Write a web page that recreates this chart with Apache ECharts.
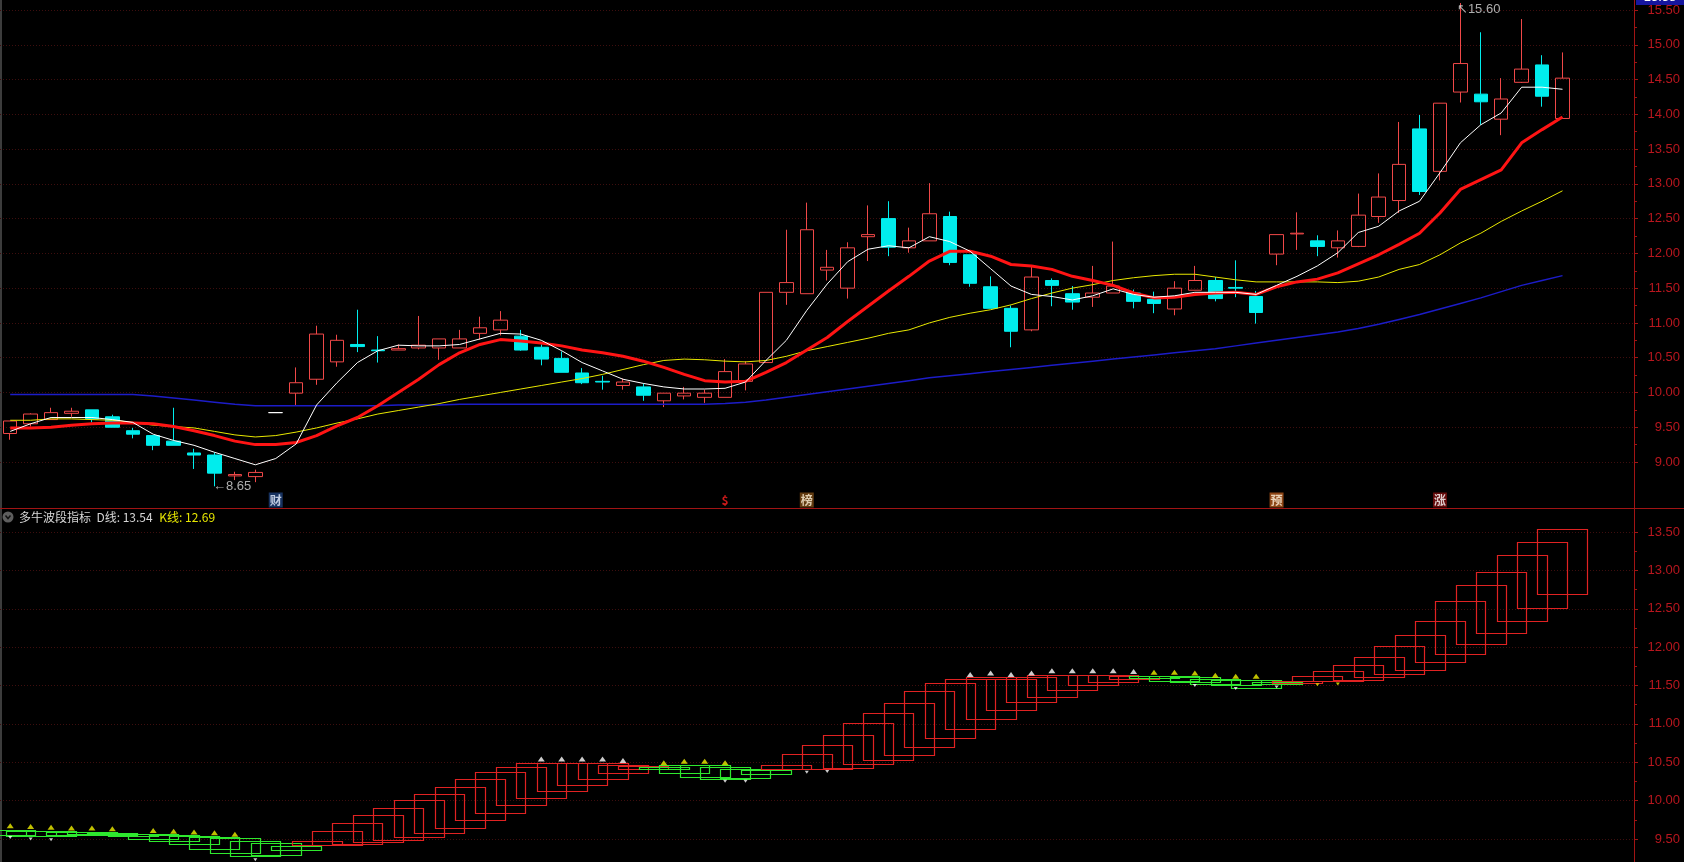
<!DOCTYPE html>
<html>
<head>
<meta charset="utf-8">
<title>多牛波段指标</title>
<script src="https://cdn.jsdelivr.net/npm/echarts@6/dist/echarts.min.js"></script>
<style>
  html, body { margin: 0; padding: 0; background: #000; }
  #chart { width: 1684px; height: 862px; }
</style>
</head>
<body>
<div id="chart"></div>
<script>
// 日K [开, 收, 低, 高]
const kline = [
  [9.41, 9.59, 9.32, 9.59], [9.55, 9.69, 9.51, 9.70], [9.61, 9.71, 9.61, 9.78], [9.70, 9.73, 9.65, 9.78],
  [9.75, 9.62, 9.57, 9.75], [9.65, 9.50, 9.50, 9.68], [9.45, 9.40, 9.34, 9.49], [9.38, 9.24, 9.17, 9.38],
  [9.30, 9.24, 9.24, 9.78], [9.13, 9.10, 8.90, 9.19], [9.10, 8.84, 8.65, 9.14], [8.80, 8.82, 8.74, 8.86],
  [8.79, 8.85, 8.71, 8.89], [9.71, 9.71, 9.71, 9.71], [9.99, 10.14, 9.82, 10.36], [10.19, 10.84, 10.11, 10.96],
  [10.44, 10.75, 10.37, 10.83], [10.69, 10.66, 10.58, 11.19], [10.61, 10.60, 10.43, 10.81], [10.61, 10.63, 10.61, 10.69],
  [10.64, 10.68, 10.62, 11.10], [10.64, 10.77, 10.47, 10.77], [10.64, 10.77, 10.64, 10.90], [10.85, 10.93, 10.76, 11.09],
  [10.90, 11.04, 10.82, 11.17], [10.81, 10.61, 10.60, 10.90], [10.65, 10.48, 10.39, 10.69], [10.49, 10.29, 10.29, 10.59],
  [10.28, 10.14, 10.12, 10.35], [10.16, 10.15, 10.04, 10.24], [10.10, 10.15, 10.04, 10.20], [10.08, 9.96, 9.88, 10.13],
  [9.88, 9.99, 9.79, 9.99], [9.95, 9.99, 9.90, 10.08], [9.93, 9.99, 9.85, 10.04], [9.93, 10.30, 9.93, 10.48],
  [10.16, 10.41, 10.03, 10.45], [10.43, 11.44, 10.43, 11.44], [11.44, 11.58, 11.26, 12.34], [11.42, 12.34, 11.42, 12.73],
  [11.76, 11.80, 11.61, 12.05], [11.50, 12.08, 11.35, 12.16], [12.24, 12.27, 11.89, 12.69], [12.50, 12.09, 11.96, 12.75],
  [12.08, 12.18, 12.01, 12.37], [12.18, 12.57, 12.18, 13.01], [12.53, 11.87, 11.83, 12.60], [11.98, 11.57, 11.52, 11.98],
  [11.52, 11.21, 11.21, 11.67], [11.21, 10.88, 10.65, 11.25], [10.90, 11.66, 10.88, 11.82], [11.61, 11.54, 11.24, 11.64],
  [11.42, 11.30, 11.19, 11.53], [11.37, 11.43, 11.23, 11.82], [11.43, 11.53, 11.43, 12.17], [11.43, 11.31, 11.21, 11.48],
  [11.34, 11.28, 11.14, 11.45], [11.20, 11.50, 11.11, 11.60], [11.47, 11.61, 11.47, 11.82], [11.61, 11.35, 11.31, 11.66],
  [11.51, 11.50, 11.37, 11.90], [11.38, 11.15, 10.99, 11.46], [11.99, 12.27, 11.83, 12.27], [12.28, 12.29, 12.05, 12.59],
  [12.18, 12.10, 11.96, 12.26], [12.08, 12.18, 11.94, 12.33], [12.10, 12.55, 12.09, 12.86], [12.53, 12.81, 12.44, 13.15],
  [12.76, 13.28, 12.58, 13.89], [13.79, 12.89, 12.84, 13.99], [13.18, 14.16, 13.05, 14.16], [14.32, 14.73, 14.17, 15.60],
  [14.29, 14.18, 13.85, 15.18], [13.93, 14.22, 13.70, 14.52], [14.46, 14.65, 14.45, 15.37], [14.71, 14.26, 14.11, 14.85],
  [13.94, 14.52, 13.94, 14.89]
];

const ma5 = [
  9.44, 9.55, 9.64, 9.64, 9.64, 9.61, 9.57, 9.40, 9.31, 9.24,
  9.14, 9.05, 8.96, 9.05, 9.26, 9.82, 10.14, 10.43, 10.60, 10.68,
  10.67, 10.67, 10.69, 10.77, 10.85, 10.84, 10.75, 10.60, 10.43, 10.31,
  10.19, 10.13, 10.08, 10.05, 10.05, 10.06, 10.15, 10.46, 10.75, 11.18,
  11.56, 11.88, 12.06, 12.11, 12.08, 12.24, 12.17, 12.03, 11.78, 11.53,
  11.41, 11.38, 11.33, 11.39, 11.49, 11.41, 11.37, 11.39, 11.44, 11.44,
  11.44, 11.41, 11.54, 11.67, 11.82, 12.01, 12.30, 12.39, 12.61, 12.75,
  13.16, 13.59, 13.85, 14.02, 14.39, 14.39, 14.36
];
const ma10 = [
  9.49, 9.49, 9.50, 9.53, 9.55, 9.56, 9.56, 9.55, 9.51, 9.45,
  9.38, 9.30, 9.25, 9.25, 9.28, 9.38, 9.52, 9.64, 9.81, 10.00,
  10.19, 10.40, 10.57, 10.69, 10.76, 10.74, 10.71, 10.67, 10.61, 10.57,
  10.52, 10.45, 10.36, 10.26, 10.17, 10.15, 10.16, 10.29, 10.43, 10.61,
  10.79, 11.02, 11.24, 11.46, 11.67, 11.89, 12.03, 12.03, 11.96, 11.84,
  11.82, 11.77, 11.67, 11.61, 11.54, 11.43, 11.36, 11.37, 11.41, 11.43,
  11.44, 11.41, 11.52, 11.59, 11.63, 11.72, 11.85, 11.98, 12.13, 12.29,
  12.58, 12.92, 13.06, 13.20, 13.59, 13.78, 13.96
];
const ma20 = [
  9.60, 9.60, 9.62, 9.62, 9.61, 9.60, 9.57, 9.53, 9.51, 9.49,
  9.44, 9.39, 9.36, 9.38, 9.43, 9.49, 9.56, 9.62, 9.69, 9.74,
  9.79, 9.84, 9.90, 9.95, 10.00, 10.05, 10.10, 10.15, 10.20, 10.26,
  10.33, 10.40, 10.46, 10.48, 10.47, 10.45, 10.44, 10.46, 10.52, 10.60,
  10.66, 10.72, 10.78, 10.85, 10.90, 11.00, 11.08, 11.14, 11.19, 11.26,
  11.35, 11.43, 11.50, 11.55, 11.61, 11.65, 11.68, 11.70, 11.70, 11.66,
  11.62, 11.59, 11.59, 11.59, 11.59, 11.58, 11.60, 11.66, 11.77, 11.84,
  11.98, 12.15, 12.29, 12.46, 12.61, 12.75, 12.90
];
const ma60 = [
  9.97, 9.97, 9.97, 9.97, 9.97, 9.97, 9.97, 9.95, 9.92, 9.89,
  9.86, 9.83, 9.81, 9.81, 9.81, 9.81, 9.81, 9.81, 9.81, 9.82,
  9.82, 9.82, 9.83, 9.83, 9.83, 9.83, 9.83, 9.83, 9.83, 9.83,
  9.83, 9.83, 9.83, 9.83, 9.83, 9.84, 9.86, 9.89, 9.93, 9.97,
  10.01, 10.05, 10.09, 10.13, 10.17, 10.21, 10.24, 10.27, 10.30, 10.33,
  10.36, 10.39, 10.42, 10.45, 10.48, 10.51, 10.54, 10.57, 10.60, 10.63,
  10.67, 10.71, 10.75, 10.79, 10.83, 10.87, 10.92, 10.98, 11.05, 11.12,
  11.20, 11.28, 11.36, 11.45, 11.54, 11.61, 11.68
];

// 多牛波段指标
const dLine = [
  9.56, 9.54, 9.53, 9.55, 9.56, 9.56, 9.55, 9.50, 9.47, 9.43,
  9.38, 9.32, 9.27, 9.30, 9.36, 9.47, 9.60, 9.71, 9.81, 9.90,
  10.01, 10.08, 10.18, 10.28, 10.37, 10.44, 10.49, 10.49, 10.49, 10.49,
  10.47, 10.45, 10.41, 10.35, 10.31, 10.29, 10.29, 10.35, 10.46, 10.61,
  10.73, 10.85, 11.01, 11.14, 11.27, 11.43, 11.53, 11.59, 11.61, 11.59,
  11.61, 11.64, 11.64, 11.64, 11.64, 11.63, 11.59, 11.55, 11.54, 11.52,
  11.50, 11.46, 11.52, 11.56, 11.62, 11.69, 11.77, 11.87, 12.02, 12.16,
  12.34, 12.60, 12.81, 12.98, 13.20, 13.37, 13.54
];
const kLine = [
  9.62, 9.61, 9.60, 9.59, 9.59, 9.58, 9.57, 9.56, 9.55, 9.54,
  9.53, 9.51, 9.47, 9.45, 9.41, 9.42, 9.42, 9.44, 9.46, 9.48,
  9.53, 9.57, 9.64, 9.74, 9.84, 9.94, 10.04, 10.12, 10.20, 10.28,
  10.36, 10.41, 10.44, 10.46, 10.46, 10.44, 10.41, 10.40, 10.41, 10.41,
  10.42, 10.42, 10.47, 10.53, 10.59, 10.70, 10.81, 10.94, 11.06, 11.18,
  11.28, 11.35, 11.44, 11.51, 11.55, 11.59, 11.62, 11.62, 11.61, 11.58,
  11.57, 11.57, 11.55, 11.54, 11.55, 11.56, 11.58, 11.61, 11.66, 11.71,
  11.80, 11.91, 12.04, 12.18, 12.34, 12.51, 12.69
];

const slotCount = 80;   // 77 根K线 + 右侧留白
const categories = Array.from({ length: slotCount }, (_, i) => String(i + 1));
const priceTicks = ['9.00', '9.50', '10.00', '10.50', '11.00', '11.50', '12.00', '12.50', '13.00', '13.50', '14.00', '14.50', '15.00', '15.50'];
const waveTicks = ['9.50', '10.00', '10.50', '11.00', '11.50', '12.00', '12.50', '13.00', '13.50'];

const signalBars = [13, 35, 39, 62, 70];
const signalTexts = ['财', '$', '榜', '预', '涨'];
const lowBar = 10;
const highBar = 71;

const upYellow = [0, 1, 2, 3, 4, 5, 7, 8, 9, 10, 11, 32, 33, 34, 35, 56, 57, 58, 59, 60, 61];
const upWhite = [26, 27, 28, 29, 30, 47, 48, 49, 50, 51, 52, 53, 54, 55];
const downWhite = [0, 1, 2, 12, 35, 36, 39, 40, 58, 60, 62];
const downYellow = [64, 65];

const RED = '#b8161e';
const signalStyle = {
  '财': { bg: '#1d3f78', fg: '#e8f0ff' },
  '$': { bg: 'transparent', fg: '#ff2020' },
  '榜': { bg: '#7a4a14', fg: '#fff2d8' },
  '预': { bg: '#b0561a', fg: '#fff4e0' },
  '涨': { bg: '#7a0c0c', fg: '#ffffff' },
};

const chart = echarts.init(document.getElementById('chart'));

function axisFor(ticks, gridIndex) {
  return {
    type: 'value',
    gridIndex,
    position: 'right',
    min: +ticks[0],
    max: +ticks[ticks.length - 1],
    interval: 0.5,
    axisLine: { show: true, lineStyle: { color: '#a01414' } },
    axisTick: { show: true, length: 4, lineStyle: { color: '#a01414' } },
    minorTick: { show: true, splitNumber: 2, length: 3, lineStyle: { color: '#a01414' } },
    axisLabel: {
      color: RED, fontSize: 13, fontFamily: 'Liberation Sans',
      align: 'right', margin: 46,
      formatter: (v) => v.toFixed(2),
    },
    splitLine: { show: true, lineStyle: { color: '#3e0e0e', type: [1, 2], width: 1 } },
  };
}

function renderBox(params, api) {
  const i = api.value(0);
  const d = api.value(1);
  const k = api.value(2);
  const top = api.coord([i, Math.max(d, k)]);
  const bot = api.coord([i, Math.min(d, k)]);
  const w = api.size([1, 0])[0] * 2.45;
  return {
    type: 'rect',
    shape: { x: Math.round(top[0] - w / 2) + 0.5, y: Math.round(top[1]) + 0.5, width: Math.round(w), height: Math.max(Math.round(bot[1] - top[1]), 1) },
    style: { fill: 'none', stroke: d >= k ? '#e02222' : '#2ee82e', lineWidth: 1.2 },
  };
}

function maLine(data, color, width) {
  return {
    type: 'line', data, xAxisIndex: 0, yAxisIndex: 0,
    symbol: 'none', smooth: false, clip: false, silent: true, z: 4,
    lineStyle: { color, width },
  };
}

function markers(list, color, up) {
  return {
    type: 'scatter', xAxisIndex: 1, yAxisIndex: 1, clip: false, silent: true, z: 5,
    data: list.map((i) => [i, up ? Math.max(dLine[i], kLine[i]) : Math.min(dLine[i], kLine[i])]),
    symbol: 'triangle', symbolSize: up ? [7, 5] : [4, 3], symbolRotate: up ? 0 : 180,
    symbolOffset: [0, up ? -4 : 3],
    itemStyle: { color },
  };
}

const option = {
  backgroundColor: '#000',
  animation: false,
  grid: [
    { left: 0, top: 10, width: 1634, height: 452 },
    { left: 0, top: 532, width: 1634, height: 307 },
  ],
  xAxis: [0, 1].map((g) => ({
    type: 'category', gridIndex: g, data: categories, boundaryGap: true,
    axisLine: { show: false }, axisTick: { show: false }, axisLabel: { show: false }, splitLine: { show: false },
  })),
  yAxis: [axisFor(priceTicks, 0), axisFor(waveTicks, 1)],
  series: [
    {
      type: 'candlestick', data: kline, xAxisIndex: 0, yAxisIndex: 0,
      barWidth: 14, clip: false, z: 2,
      itemStyle: {
        color: 'transparent', color0: '#00eded',
        borderColor: '#f04848', borderColor0: '#00eded', borderColorDoji: '#ffffff',
        borderWidth: 1,
      },
    },
    maLine(ma60, '#1c1cc8', 1.5),
    maLine(ma20, '#e8e800', 1),
    maLine(ma10, '#ff1414', 3),
    maLine(ma5, '#ffffff', 1),
    {
      type: 'scatter', xAxisIndex: 0, yAxisIndex: 0, clip: false, silent: true, z: 6,
      data: signalBars.map((b, n) => ({
        value: [b, +priceTicks[0]],
        itemStyle: { color: signalStyle[signalTexts[n]].bg },
        label: { color: signalStyle[signalTexts[n]].fg },
      })),
      symbol: 'rect', symbolSize: [14, 15], symbolOffset: [0, 38],
      label: {
        show: true, position: 'inside', fontSize: 12,
        fontFamily: 'Noto Sans CJK SC', fontWeight: 'bold',
        formatter: (p) => signalTexts[signalBars.indexOf(p.value[0])],
      },
    },
    {
      type: 'scatter', xAxisIndex: 0, yAxisIndex: 0, clip: false, silent: true, z: 6,
      symbol: 'circle', symbolSize: 1,
      itemStyle: { color: 'rgba(0,0,0,0)' },
      data: [
        { value: [lowBar, kline[lowBar][2]], label: { formatter: '←' + kline[lowBar][2].toFixed(2), offset: [-2, 0] } },
        { value: [highBar, kline[highBar][3]], label: { formatter: '↖' + kline[highBar][3].toFixed(2), offset: [-4, 6] } },
      ],
      label: { show: true, position: 'right', distance: 0, color: '#d8d8d8', fontSize: 13, fontFamily: 'Liberation Sans' },
    },
    {
      type: 'custom', xAxisIndex: 1, yAxisIndex: 1, clip: false, silent: true, z: 3,
      data: dLine.map((d, i) => [i, d, kLine[i]]),
      renderItem: renderBox,
    },
    markers(upYellow, '#f0f000', true),
    markers(upWhite, '#ffffff', true),
    markers(downWhite, '#ffffff', false),
    markers(downYellow, '#f0f000', false),
  ],
  graphic: [
    { type: 'line', shape: { x1: 1, y1: 0, x2: 1, y2: 862 }, style: { stroke: '#3c3c3c', lineWidth: 2 } },
    { type: 'line', shape: { x1: 1634.5, y1: 0, x2: 1634.5, y2: 862 }, style: { stroke: '#a01414', lineWidth: 1 } },
    { type: 'line', shape: { x1: 0, y1: 508.5, x2: 1684, y2: 508.5 }, style: { stroke: '#a01414', lineWidth: 1 } },
    { type: 'rect', shape: { x: 1636, y: -10, width: 48, height: 15 }, style: { fill: '#1616a0' } },
    { type: 'text', x: 1660, y: -3, style: { text: '15.58', fill: '#ffffff', font: '13px "Liberation Sans"', align: 'center', verticalAlign: 'middle' } },
    { type: 'circle', shape: { cx: 8, cy: 517, r: 5.5 }, style: { fill: '#5e5e5e' } },
    { type: 'polyline', shape: { points: [[5.5, 515.5], [8, 518.5], [10.5, 515.5]] }, style: { stroke: '#111', lineWidth: 1.5, fill: 'none' } },
    {
      type: 'text', x: 19, y: 517,
      style: {
        text: '{w|多牛波段指标  D线: ' + dLine[dLine.length - 1].toFixed(2) + '}  {y|K线: ' + kLine[kLine.length - 1].toFixed(2) + '}',
        verticalAlign: 'middle',
        rich: {
          w: { fill: '#d6d6d6', fontSize: 12, fontFamily: 'Noto Sans CJK SC' },
          y: { fill: '#e6e600', fontSize: 12, fontFamily: 'Noto Sans CJK SC' },
        },
      },
    },
  ],
};

chart.setOption(option);
window.addEventListener('resize', () => chart.resize());
</script>
</body>
</html>
